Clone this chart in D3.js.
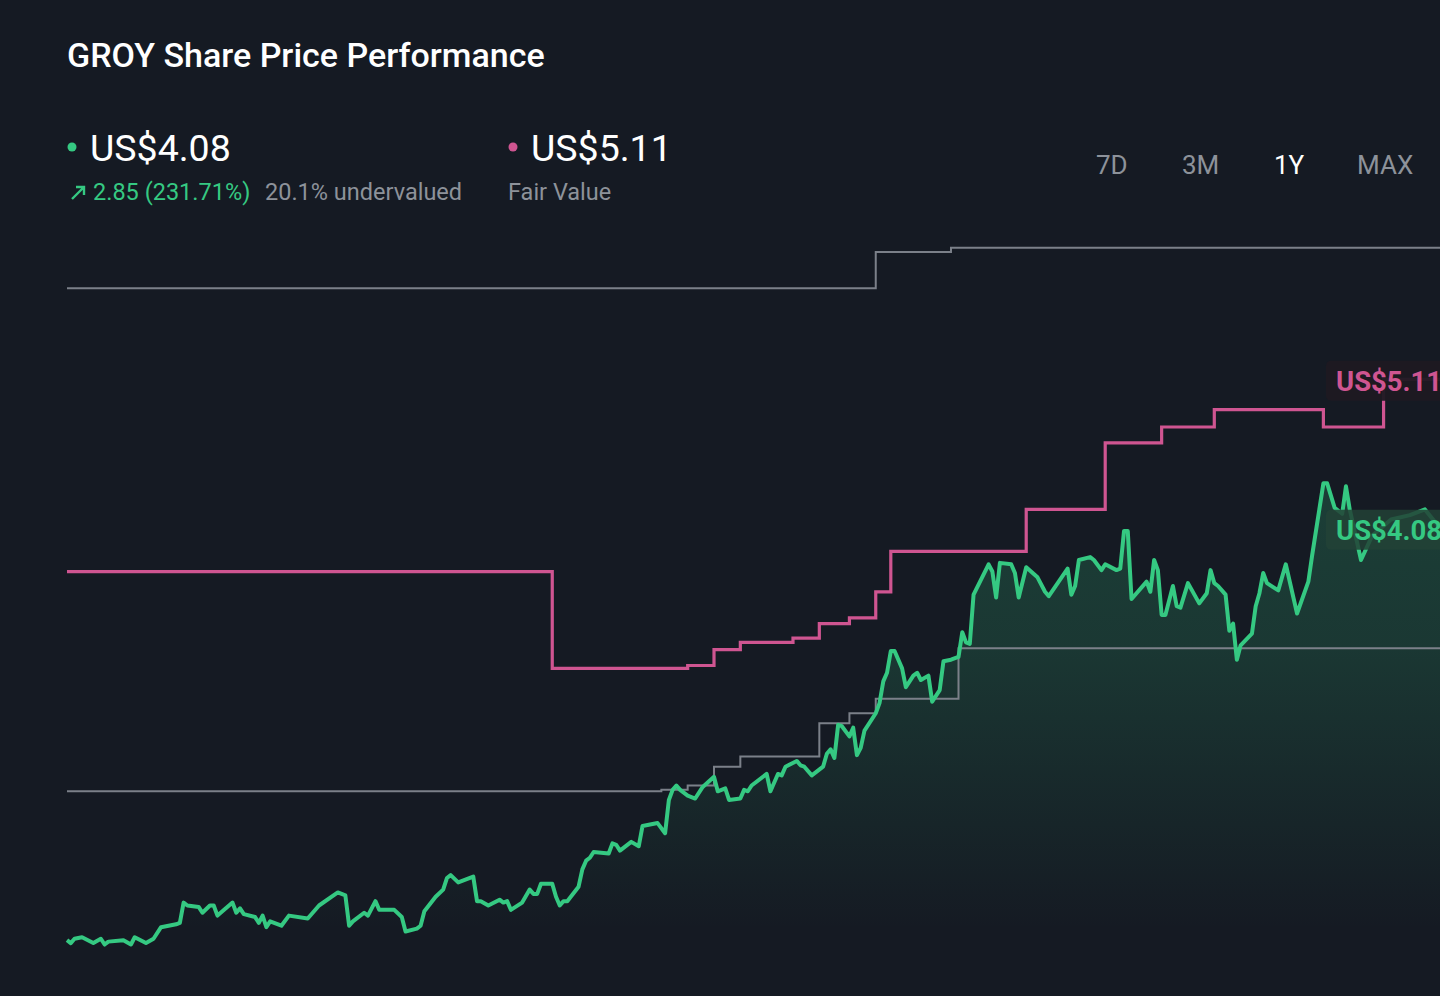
<!DOCTYPE html>
<meta charset="utf-8">
<script src="https://d3js.org/d3.v7.min.js"></script>
<style>
  body { margin: 0; background: #151a23; overflow: hidden; }
  text { font-family: Roboto, "Noto Sans", sans-serif; }
</style>
<div id="chart"></div>
<script>

// price history, day index within the year
var priceDay = [0,1,2,4,7,9,10,11,15,17,18,21,23,25,29,30,31,32,35,36,38,39,40,44,45,46,47,50,51,52,53,54,57,59,64,67,72,74,75,76,79,80,82,83,87,89,90,93,94,95,98,100,101,102,104,108,109,110,112,115,116,117,118,121,123,124,125,126,129,130,131,132,133,136,137,138,139,140,144,145,146,147,150,152,153,157,159,160,161,162,163,165,167,169,172,173,175,176,179,180,181,182,186,187,189,190,191,194,195,196,198,201,202,203,204,205,206,208,209,210,211,212,215,216,217,218,219,220,222,223,225,226,227,229,230,232,233,235,237,238,239,240,241,245,246,247,248,251,252,253,255,258,260,261,266,267,268,269,272,273,275,276,279,280,281,282,283,287,288,289,290,291,292,294,295,296,298,301,303,304,305,306,308,309,310,311,312,315,316,317,318,319,322,324,327,330,331,334,335,337,339,340,341,344,347,352,357,361,365];
var priceValue = [1.23,1.21,1.24,1.25,1.21,1.24,1.20,1.22,1.23,1.20,1.25,1.21,1.24,1.32,1.34,1.35,1.49,1.47,1.46,1.42,1.47,1.47,1.40,1.49,1.42,1.45,1.41,1.39,1.35,1.40,1.32,1.36,1.33,1.40,1.38,1.47,1.56,1.54,1.33,1.36,1.42,1.40,1.50,1.44,1.44,1.39,1.29,1.31,1.33,1.43,1.53,1.58,1.66,1.68,1.63,1.67,1.50,1.50,1.47,1.51,1.49,1.50,1.44,1.49,1.58,1.55,1.55,1.62,1.62,1.53,1.47,1.50,1.50,1.60,1.72,1.78,1.80,1.84,1.83,1.90,1.89,1.85,1.91,1.88,2.02,2.04,1.97,2.20,2.27,2.30,2.27,2.23,2.21,2.29,2.36,2.26,2.28,2.20,2.21,2.27,2.26,2.30,2.38,2.26,2.38,2.37,2.43,2.47,2.44,2.43,2.37,2.43,2.52,2.55,2.49,2.72,2.71,2.64,2.70,2.51,2.56,2.68,2.80,2.87,3.02,3.08,3.23,3.23,3.11,2.98,3.06,3.08,3.03,3.06,2.88,2.96,3.16,3.17,3.19,3.36,3.29,3.28,3.62,3.83,3.78,3.60,3.84,3.83,3.77,3.60,3.81,3.74,3.64,3.61,3.80,3.62,3.68,3.86,3.88,3.86,3.79,3.83,3.79,3.80,4.06,4.06,3.59,3.71,3.64,3.86,3.79,3.48,3.48,3.68,3.54,3.53,3.70,3.56,3.63,3.79,3.70,3.68,3.62,3.37,3.42,3.17,3.27,3.35,3.54,3.63,3.77,3.70,3.65,3.83,3.49,3.71,3.89,4.39,4.39,4.22,4.18,4.37,4.21,3.86,4.03,4.14,4.17,4.21,4.08];

// fair value estimate (step changes)
var fairDay = [0,129,165,172,179,193,200,208,215,219,255,276,291,305,334,350,365];
var fairValue = [3.78,3.11,3.13,3.24,3.29,3.32,3.42,3.46,3.64,3.92,4.21,4.67,4.78,4.90,4.78,5.11,5.11];

// grey reference lines (step changes)
var highDay = [0,215,235,365];
var highValue = [5.74,5.99,6.02,6.02];
var lowDay = [0,158,165,172,179,200,208,215,237,365];
var lowValue = [2.26,2.27,2.30,2.43,2.50,2.73,2.80,2.90,3.25,3.25];

var rangeLabels = ["7D", "3M", "1Y", "MAX"];
var rangeX = [1096, 1182, 1274, 1357];

var width = 1440, height = 996;
var green = "#35c982", pink = "#cf5591", grey = "#7b8089";

var svg = d3.select("#chart").append("svg")
    .attr("width", width)
    .attr("height", height);

svg.append("rect").attr("width", width).attr("height", height).attr("fill", "#151a23");

var x = d3.scaleLinear().domain([0, 365]).range([67, 1440]);
var y = d3.scaleLinear().domain([0, 6.2]).range([1118, 221.7]);

var price = priceDay.map(function(d, i) { return [d, priceValue[i]]; });
var fair = fairDay.map(function(d, i) { return [d, fairValue[i]]; });
var high = highDay.map(function(d, i) { return [d, highValue[i]]; });
var low = lowDay.map(function(d, i) { return [d, lowValue[i]]; });

// gradient for the area under the price
var defs = svg.append("defs");
var grad = defs.append("linearGradient")
    .attr("id", "priceFill")
    .attr("gradientUnits", "userSpaceOnUse")
    .attr("x1", 0).attr("x2", 0).attr("y1", 520).attr("y2", 930);
grad.append("stop").attr("offset", 0).attr("stop-color", green).attr("stop-opacity", 0.2);
grad.append("stop").attr("offset", 0.3).attr("stop-color", green).attr("stop-opacity", 0.17);
grad.append("stop").attr("offset", 1).attr("stop-color", green).attr("stop-opacity", 0);

var area = d3.area()
    .x(function(d) { return x(d[0]); })
    .y0(height)
    .y1(function(d) { return y(d[1]); });

svg.append("path")
    .datum(price)
    .attr("d", area)
    .attr("fill", "url(#priceFill)");

var stepLine = d3.line()
    .x(function(d) { return x(d[0]); })
    .y(function(d) { return y(d[1]); })
    .curve(d3.curveStepAfter);

svg.append("path").datum(high).attr("d", stepLine)
    .attr("fill", "none").attr("stroke", grey).attr("stroke-width", 2);
svg.append("path").datum(low).attr("d", stepLine)
    .attr("fill", "none").attr("stroke", grey).attr("stroke-width", 2);

svg.append("path").datum(fair).attr("d", stepLine)
    .attr("fill", "none").attr("stroke", pink).attr("stroke-width", 3.2);

var priceLine = d3.line()
    .x(function(d) { return x(d[0]); })
    .y(function(d) { return y(d[1]); });

svg.append("path").datum(price).attr("d", priceLine)
    .attr("fill", "none").attr("stroke", green)
    .attr("stroke-width", 4).attr("stroke-linejoin", "round");

// end-of-line value tags
function tag(v, col, bg) {
  var cy = y(v) + 1.5;
  svg.append("rect")
      .attr("x", 1326).attr("y", cy - 20)
      .attr("width", 140).attr("height", 40)
      .attr("rx", 5)
      .attr("fill", bg);
  svg.append("text")
      .attr("x", 1336).attr("y", cy + 10)
      .attr("fill", col)
      .style("font-size", "27.5px")
      .style("font-weight", "700")
      .text("US$" + v.toFixed(2));
}
tag(fairValue[fairValue.length - 1], pink, "rgba(30,25,34,0.95)");
tag(priceValue[priceValue.length - 1], green, "rgba(34,66,54,0.85)");

// header
svg.append("text")
    .attr("x", 67).attr("y", 67)
    .attr("fill", "#ffffff")
    .style("font-size", "34px")
    .style("font-weight", "500")
    .text("GROY Share Price Performance");

svg.append("circle").attr("cx", 72).attr("cy", 147).attr("r", 4.5).attr("fill", green);
svg.append("text")
    .attr("x", 90).attr("y", 161)
    .attr("fill", "#ffffff")
    .style("font-size", "37.5px")
    .text("US$" + priceValue[priceValue.length - 1].toFixed(2));

svg.append("circle").attr("cx", 513).attr("cy", 147).attr("r", 4.5).attr("fill", pink);
svg.append("text")
    .attr("x", 531).attr("y", 161)
    .attr("fill", "#ffffff")
    .style("font-size", "37.5px")
    .text("US$" + fairValue[fairValue.length - 1].toFixed(2));

// little up arrow
svg.append("path")
    .attr("d", "M72,199 L84,187 M76,187 L84,187 L84,195")
    .attr("fill", "none").attr("stroke", green).attr("stroke-width", 2.4);

svg.append("text")
    .attr("x", 93).attr("y", 200)
    .attr("fill", green)
    .style("font-size", "23.5px")
    .text("2.85 (231.71%)");

svg.append("text")
    .attr("x", 265).attr("y", 200)
    .attr("fill", "#8d929a")
    .style("font-size", "23.5px")
    .text("20.1% undervalued");

svg.append("text")
    .attr("x", 508).attr("y", 200)
    .attr("fill", "#8d929a")
    .style("font-size", "23.5px")
    .text("Fair Value");

// range buttons
svg.selectAll(".range")
  .data(rangeLabels)
  .enter()
  .append("text")
    .attr("class", "range")
    .attr("x", function(d, i) { return rangeX[i]; })
    .attr("y", 174)
    .attr("fill", function(d) { return d == "1Y" ? "#ffffff" : "#8d929a"; })
    .style("font-size", "26px")
    .text(function(d) { return d; });

</script>
